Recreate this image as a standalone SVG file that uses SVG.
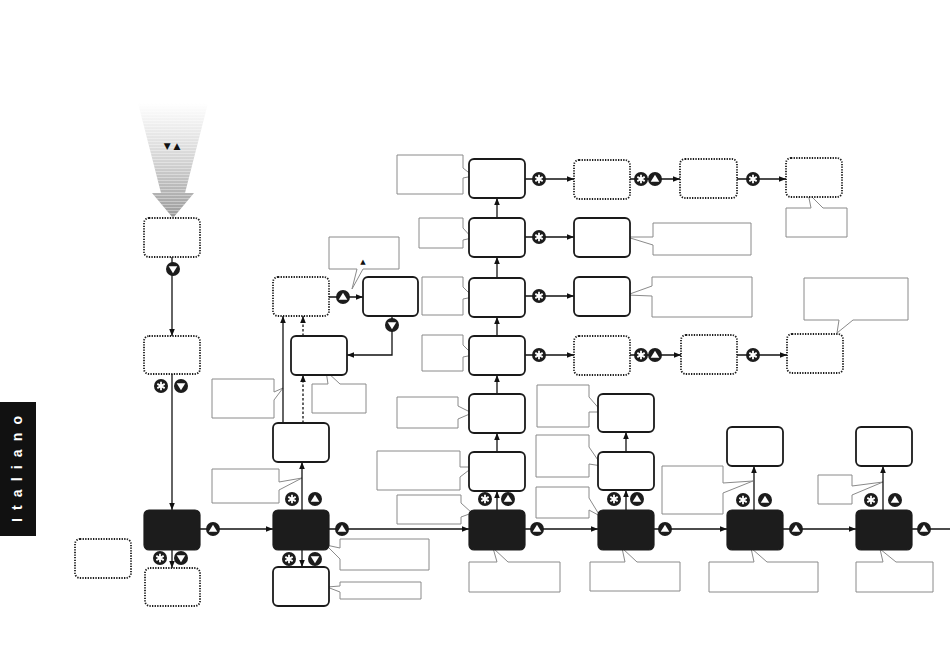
<svg xmlns="http://www.w3.org/2000/svg" width="950" height="669" viewBox="0 0 950 669">
<style>
.nd{fill:#fff;stroke:#1a1a1a;stroke-width:1.8}
.dt{fill:#fff;stroke:#1a1a1a;stroke-width:1.8;stroke-dasharray:1.3 1.3}
.bk{fill:#1c1c1c;stroke:#1c1c1c;stroke-width:1.2}
.cn{fill:none;stroke:#111;stroke-width:1.3}
.ca{fill:none;stroke:#111;stroke-width:1.3;marker-end:url(#ah)}
.cd{fill:none;stroke:#111;stroke-width:1.3;stroke-dasharray:2.5 2;marker-end:url(#ah)}
.co{fill:#fff;stroke:#8a8a8a;stroke-width:1}
</style>
<defs>
<marker id="ah" viewBox="0 0 10 10" refX="10" refY="5" markerWidth="7" markerHeight="7" markerUnits="userSpaceOnUse" orient="auto"><path d="M0,1 L10,5 L0,9 Z" fill="#111"/></marker>
<linearGradient id="gr" x1="0" y1="0" x2="0" y2="1">
<stop offset="0" stop-color="#ffffff"/>
<stop offset="0.5" stop-color="#d4d4d4"/>
<stop offset="1" stop-color="#9a9a9a"/>
</linearGradient>
<pattern id="stripes" width="4" height="3" patternUnits="userSpaceOnUse"><rect width="4" height="1" fill="#fff" opacity="0.35"/></pattern>
<g id="cs"><circle r="7" fill="#1c1c1c"/><path d="M0,-4.3V4.3M-3.7,-2.15L3.7,2.15M-3.7,2.15L3.7,-2.15" stroke="#fff" stroke-width="1.8"/></g>
<g id="cu"><circle r="7" fill="#1c1c1c"/><path d="M0,-4.2L4.3,2.8H-4.3Z" fill="#fff"/></g>
<g id="cw"><circle r="7" fill="#1c1c1c"/><path d="M0,4.2L4.3,-2.8H-4.3Z" fill="#fff"/></g>
</defs>
<rect width="950" height="669" fill="#fff"/>

<g id="language-tab">
<rect x="0" y="402" width="36" height="134" fill="#111"/>
<text transform="translate(22,469) rotate(-90)" text-anchor="middle" font-family="Liberation Sans, Arial, sans-serif" font-weight="bold" font-size="14" fill="#fff" textLength="106" lengthAdjust="spacing">Italiano</text>
</g>

<g id="entry-arrow">
<polygon points="138,103 208,103 185,193 194,193 173,218 152,193 161,193" fill="url(#gr)"/>
<polygon points="138,103 208,103 185,193 194,193 173,218 152,193 161,193" fill="url(#stripes)"/>
<text x="172" y="149" text-anchor="middle" font-family="DejaVu Sans, sans-serif" font-size="9" fill="#111">▼ ▲</text>
</g>

<g id="callouts">
<path class="co" d="M329,237 H399 V269 H363 L352,289 L357,269 H329 Z"/>
<text x="363" y="264" text-anchor="middle" font-family="DejaVu Sans, sans-serif" font-size="7" fill="#111">▲</text>
<path class="co" d="M312,384 H328 L326,371 L340,384 H366 V413 H312 Z"/>
<path class="co" d="M212,379 H274 V392 L283,388 L274,400 V418 H212 Z"/>
<path class="co" d="M212,469 H279 V482 L302,478 L279,490 V503 H212 Z"/>
<path class="co" d="M340,539 H429 V570 H340 V559 L326,545 L340,548 Z"/>
<path class="co" d="M340,582 H421 V599 H340 V592 L327,587 L340,586 Z"/>
<path class="co" d="M397,155 H463 V168 L473,176 L463,178 V194 H397 Z"/>
<path class="co" d="M419,218 H463 V228 L472,238 L463,240 V248 H419 Z"/>
<path class="co" d="M422,277 H463 V287 L473,297 L463,299 V315 H422 Z"/>
<path class="co" d="M422,335 H463 V345 L473,355 L463,357 V371 H422 Z"/>
<path class="co" d="M397,397 H458 V406 L472,413 L458,419 V428 H397 Z"/>
<path class="co" d="M377,451 H460 V467 L473,467 L460,477 V490 H377 Z"/>
<path class="co" d="M397,495 H461 V503 L472,513 L461,517 V524 H397 Z"/>
<path class="co" d="M469,562 H497 L493,548 L508,562 H560 V592 H469 Z"/>
<path class="co" d="M653,223 H751 V255 H653 V245 L627,237 L653,237 Z"/>
<path class="co" d="M652,277 H752 V317 H652 V296 L627,295 L652,286 Z"/>
<path class="co" d="M786,208 H811 L808,193 L823,208 H847 V237 H786 Z"/>
<path class="co" d="M804,278 H908 V320 H853 L837,333 L839,320 H804 Z"/>
<path class="co" d="M537,385 H589 V397 L602,412 L589,412 V427 H537 Z"/>
<path class="co" d="M536,435 H589 V447 L602,466 L589,464 V477 H536 Z"/>
<path class="co" d="M536,487 H589 V498 L600,516 L589,510 V518 H536 Z"/>
<path class="co" d="M590,562 H625 L622,548 L637,562 H680 V591 H590 Z"/>
<path class="co" d="M662,466 H723 V483 L753,481 L723,493 V514 H662 Z"/>
<path class="co" d="M709,562 H754 L751,548 L767,562 H818 V592 H709 Z"/>
<path class="co" d="M818,475 H852 V486 L883,482 L852,495 V504 H818 Z"/>
<path class="co" d="M856,562 H883 L880,549 L896,562 H933 V592 H856 Z"/>
</g>

<g id="connectors">
<path class="ca" d="M172,257 V336"/>
<path class="ca" d="M172,374 V510"/>
<path class="ca" d="M172,550 V568"/>
<path class="ca" d="M200,529 H273"/>
<path class="ca" d="M329,529 H469"/>
<path class="ca" d="M525,529 H598"/>
<path class="ca" d="M654,529 H727"/>
<path class="ca" d="M783,529 H856"/>
<path class="cn" d="M912,529 H950"/>
<path class="ca" d="M302,510 V462"/>
<path class="ca" d="M283,423 V316"/>
<path class="cd" d="M303,423 V375"/>
<path class="cd" d="M303,336 V316"/>
<path class="ca" d="M329,297 H363"/>
<path class="ca" d="M392,316 V355 H347"/>
<path class="ca" d="M302,550 V567"/>
<path class="ca" d="M497,510 V491"/>
<path class="ca" d="M497,452 V433"/>
<path class="ca" d="M497,394 V375"/>
<path class="ca" d="M497,336 V317"/>
<path class="ca" d="M497,278 V257"/>
<path class="ca" d="M497,218 V198"/>
<path class="ca" d="M525,179 H574"/>
<path class="ca" d="M525,237 H574"/>
<path class="ca" d="M525,296 H574"/>
<path class="ca" d="M525,355 H574"/>
<path class="ca" d="M630,179 H680"/>
<path class="ca" d="M737,179 H786"/>
<path class="ca" d="M630,355 H681"/>
<path class="ca" d="M737,355 H787"/>
<path class="ca" d="M626,510 V490"/>
<path class="ca" d="M626,452 V432"/>
<path class="ca" d="M754,510 V466"/>
<path class="ca" d="M883,510 V466"/>
<use href="#cw" x="173" y="269"/>
<use href="#cs" x="161" y="386"/><use href="#cw" x="181" y="386"/>
<use href="#cs" x="160" y="558"/><use href="#cw" x="181" y="558"/>
<use href="#cu" x="213" y="529"/>
<use href="#cu" x="342" y="529"/>
<use href="#cu" x="537" y="529"/>
<use href="#cu" x="665" y="529"/>
<use href="#cu" x="796" y="529"/>
<use href="#cu" x="924" y="529"/>
<use href="#cs" x="292" y="499"/><use href="#cu" x="315" y="499"/>
<use href="#cs" x="289" y="559"/><use href="#cw" x="315" y="559"/>
<use href="#cu" x="343" y="297"/>
<use href="#cw" x="392" y="325"/>
<use href="#cs" x="485" y="499"/><use href="#cu" x="508" y="499"/>
<use href="#cs" x="539" y="179"/>
<use href="#cs" x="539" y="237"/>
<use href="#cs" x="539" y="296"/>
<use href="#cs" x="539" y="355"/>
<use href="#cs" x="641" y="179"/><use href="#cu" x="655" y="179"/>
<use href="#cs" x="753" y="179"/>
<use href="#cs" x="641" y="355"/><use href="#cu" x="655" y="355"/>
<use href="#cs" x="753" y="355"/>
<use href="#cs" x="614" y="499"/><use href="#cu" x="637" y="499"/>
<use href="#cs" x="743" y="500"/><use href="#cu" x="765" y="500"/>
<use href="#cs" x="871" y="500"/><use href="#cu" x="895" y="500"/>
</g>

<g id="A1"><rect class="dt" x="144" y="218" width="56" height="39" rx="5"/></g>
<g id="A2"><rect class="dt" x="144" y="336" width="56" height="38" rx="5"/></g>
<g id="A3"><rect class="bk" x="144" y="510" width="56" height="40" rx="5"/></g>
<g id="A4"><rect class="dt" x="145" y="568" width="55" height="38" rx="5"/></g>
<g id="L1"><rect class="dt" x="75" y="539" width="56" height="39" rx="5"/></g>
<g id="B1"><rect class="dt" x="273" y="277" width="56" height="39" rx="5"/></g>
<g id="BR"><rect class="nd" x="363" y="277" width="55" height="39" rx="5"/></g>
<g id="B2"><rect class="nd" x="291" y="336" width="56" height="39" rx="5"/></g>
<g id="B3"><rect class="nd" x="273" y="423" width="56" height="39" rx="5"/></g>
<g id="B4"><rect class="bk" x="273" y="510" width="56" height="40" rx="5"/></g>
<g id="B5"><rect class="nd" x="273" y="567" width="56" height="39" rx="5"/></g>
<g id="C1"><rect class="nd" x="469" y="159" width="56" height="39" rx="5"/></g>
<g id="C2"><rect class="nd" x="469" y="218" width="56" height="39" rx="5"/></g>
<g id="C3"><rect class="nd" x="469" y="278" width="56" height="39" rx="5"/></g>
<g id="C4"><rect class="nd" x="469" y="336" width="56" height="39" rx="5"/></g>
<g id="C5"><rect class="nd" x="469" y="394" width="56" height="39" rx="5"/></g>
<g id="C6"><rect class="nd" x="469" y="452" width="56" height="39" rx="5"/></g>
<g id="C7"><rect class="bk" x="469" y="510" width="56" height="40" rx="5"/></g>
<g id="D1"><rect class="dt" x="574" y="160" width="56" height="39" rx="5"/></g>
<g id="E1"><rect class="dt" x="680" y="159" width="57" height="39" rx="5"/></g>
<g id="F1"><rect class="dt" x="786" y="158" width="56" height="39" rx="5"/></g>
<g id="D2"><rect class="nd" x="574" y="218" width="56" height="39" rx="5"/></g>
<g id="D3"><rect class="nd" x="574" y="277" width="56" height="39" rx="5"/></g>
<g id="D4"><rect class="dt" x="574" y="336" width="56" height="39" rx="5"/></g>
<g id="E4"><rect class="dt" x="681" y="335" width="56" height="39" rx="5"/></g>
<g id="F4"><rect class="dt" x="787" y="334" width="56" height="39" rx="5"/></g>
<g id="D5"><rect class="nd" x="598" y="394" width="56" height="38" rx="5"/></g>
<g id="D6"><rect class="nd" x="598" y="452" width="56" height="38" rx="5"/></g>
<g id="D7"><rect class="bk" x="598" y="510" width="56" height="40" rx="5"/></g>
<g id="E5"><rect class="nd" x="727" y="427" width="56" height="39" rx="5"/></g>
<g id="E7"><rect class="bk" x="727" y="510" width="56" height="40" rx="5"/></g>
<g id="G5"><rect class="nd" x="856" y="427" width="56" height="39" rx="5"/></g>
<g id="G7"><rect class="bk" x="856" y="510" width="56" height="40" rx="5"/></g>
</svg>
